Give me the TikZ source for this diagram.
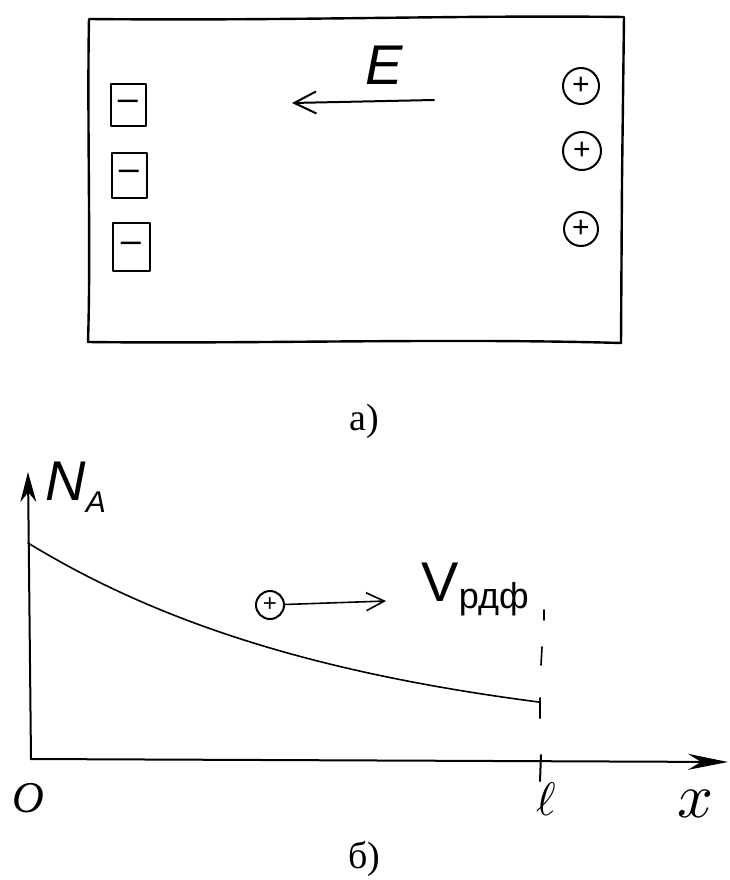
\documentclass[tikz,border=0pt]{standalone}
\usepackage{fontspec}
\setmainfont{Liberation Serif}
\newfontfamily\hand{Liberation Sans}
\usetikzlibrary{arrows.meta}
\tikzset{
  ink/.style={line width=2pt, line cap=round, line join=round},
  thin ink/.style={line width=1.6pt, line cap=round, line join=round},
  minusbox/.style={draw, ink, minimum width=35pt, minimum height=42pt, inner sep=0pt, font=\hand\fontsize{36}{36}\selectfont},
  pluscirc/.style={draw, ink, circle, minimum size=36pt, inner sep=0pt, font=\hand\fontsize{30}{30}\selectfont},
  caption/.style={font=\fontsize{38}{38}\selectfont, anchor=base},
  handlabel/.style={font=\hand\itshape\fontsize{56}{56}\selectfont},
  axis/.style={ink, -{Stealth[length=30pt,width=16pt]}},
}
\begin{document}
\begin{tikzpicture}[x=1pt,y=-1pt]
\useasboundingbox (0,0) rectangle (729,880);
% ---- a) ----
\draw[ink, line width=2.4pt] (89,19) .. controls (300,21) and (450,15) .. (624,17) -- (622,180) -- (621,343)
   .. controls (450,338) and (250,344) .. (88,342) .. controls (91,250) and (87,120) .. cycle;
\node[minusbox] (m1) at (128,105) {–};
\node[minusbox, minimum height=45pt] (m2) at (129,175) {–};
\node[minusbox, minimum width=37pt, minimum height=48pt] (m3) at (131,247) {–};
\node[pluscirc] (p1) at (581,86) {+};
\node[pluscirc, minimum size=38pt] (p2) at (582,151) {+};
\node[pluscirc, minimum size=34pt] (p3) at (581,229) {+};
\coordinate (e1) at (434,100);
\coordinate (e2) at (292,103);
\draw[ink, -{Straight Barb[length=22pt,width=22pt]}] (e1) -- (e2);
\node[handlabel] (E) at (384,65) {E};
\node[caption] (ca) at (364,430) {а)};
% ---- b) ----
\coordinate (o) at (31,759);
\coordinate (ytop) at (28,472);
\coordinate (xend) at (728,762);
\draw[axis] (o) -- (ytop);
\draw[ink, -{Stealth[length=40pt,width=16pt]}] (o) -- (xend);
\node[handlabel, anchor=base west] (N) at (42,500) {N\raisebox{-12pt}{\fontsize{30}{30}\selectfont A}};
\draw[thin ink] plot[domain=28:540, samples=80] (\x, {745-202*exp(-(\x-28)/330)});
\draw[ink] (540,698) -- (540,718);
\draw[ink] (541,755) -- (540,781);
\draw[thin ink] (542,647) -- (541,665);
\draw[thin ink] (544,610) -- (544,620);
\node[pluscirc, minimum size=28pt, font=\hand\fontsize{24}{24}\selectfont] (pp) at (270,605) {+};
\coordinate (va) at (386,601);
\draw[thin ink, -{Straight Barb[length=18pt,width=18pt]}] (pp) -- (va);
\node[anchor=base west, font=\hand\fontsize{56}{56}\selectfont] (V) at (418,601) {V\raisebox{-7pt}{\fontsize{36}{36}\selectfont рдф}};
\node[font=\fontsize{44}{44}\selectfont\itshape, anchor=base] (lo) at (28,812) {O};
\node[scale=4.7, anchor=base] (ll) at (546,815) {$\ell$};
\node[scale=6.3, anchor=base] (lx) at (695,817) {$x$};
\node[caption] (cb) at (364,868) {б)};
\end{tikzpicture}
\end{document}
